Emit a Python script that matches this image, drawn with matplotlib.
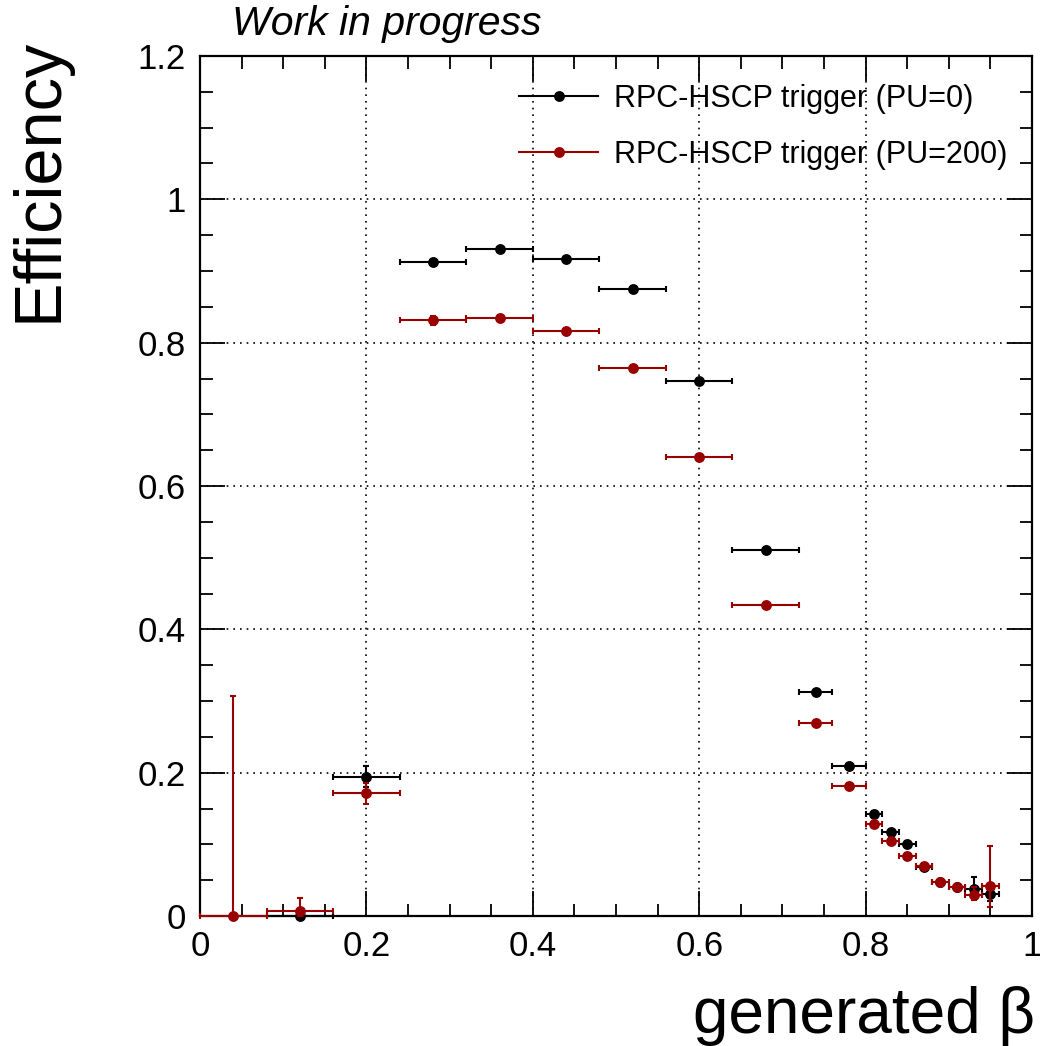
import matplotlib.pyplot as plt
from matplotlib.lines import Line2D
from matplotlib.ticker import MultipleLocator

plt.rcParams['font.family'] = ['Liberation Sans', 'DejaVu Sans']

# bin centres / half widths (generated beta)
x_pu0 = [0.12, 0.20, 0.28, 0.36, 0.44, 0.52, 0.60, 0.68, 0.74, 0.78,
         0.81, 0.83, 0.85, 0.87, 0.89, 0.91, 0.93, 0.95]
xw_pu0 = [0.04, 0.04, 0.04, 0.04, 0.04, 0.04, 0.04, 0.04, 0.02, 0.02,
          0.01, 0.01, 0.01, 0.01, 0.01, 0.01, 0.01, 0.01]
eff_pu0 = [0.0, 0.194, 0.913, 0.931, 0.917, 0.875, 0.747, 0.511, 0.312, 0.210,
           0.142, 0.117, 0.100, 0.069, 0.048, 0.040, 0.038, 0.031]
elo_pu0 = [0.0, 0.014, 0.004, 0.003, 0.003, 0.004, 0.004, 0.004, 0.004, 0.004,
           0.004, 0.004, 0.004, 0.004, 0.004, 0.004, 0.010, 0.010]
ehi_pu0 = [0.004, 0.016, 0.004, 0.003, 0.003, 0.004, 0.004, 0.004, 0.004, 0.004,
           0.004, 0.004, 0.004, 0.004, 0.004, 0.004, 0.017, 0.012]

x_pu200 = [0.04, 0.12, 0.20, 0.28, 0.36, 0.44, 0.52, 0.60, 0.68, 0.74, 0.78,
           0.81, 0.83, 0.85, 0.87, 0.89, 0.91, 0.93, 0.95]
xw_pu200 = [0.04, 0.04, 0.04, 0.04, 0.04, 0.04, 0.04, 0.04, 0.04, 0.02, 0.02,
            0.01, 0.01, 0.01, 0.01, 0.01, 0.01, 0.01, 0.01]
eff_pu200 = [0.0, 0.007, 0.171, 0.831, 0.834, 0.816, 0.765, 0.640, 0.434, 0.269, 0.182,
             0.129, 0.105, 0.084, 0.070, 0.048, 0.040, 0.030, 0.042]
elo_pu200 = [0.0, 0.007, 0.015, 0.006, 0.004, 0.004, 0.004, 0.004, 0.004, 0.004, 0.004,
             0.004, 0.004, 0.004, 0.004, 0.004, 0.004, 0.008, 0.030]
ehi_pu200 = [0.307, 0.018, 0.014, 0.006, 0.004, 0.004, 0.004, 0.004, 0.004, 0.004, 0.004,
             0.004, 0.004, 0.004, 0.004, 0.004, 0.004, 0.010, 0.056]

labels = ['RPC-HSCP trigger (PU=0)', 'RPC-HSCP trigger (PU=200)']
red = '#990000'

fig = plt.figure(figsize=(10.4, 10.46), dpi=100)
ax = fig.add_axes([200/1040, 1-916/1046, 832/1040, 860/1046])

ax.errorbar(x_pu0, eff_pu0, xerr=xw_pu0, yerr=[elo_pu0, ehi_pu0], fmt='o', color='black',
            ms=6.8, elinewidth=1.5, capsize=2.5, capthick=1.5, clip_on=False, zorder=3)
ax.errorbar(x_pu200, eff_pu200, xerr=xw_pu200, yerr=[elo_pu200, ehi_pu200], fmt='o', color=red,
            ms=6.8, elinewidth=1.5, capsize=2.5, capthick=1.5, clip_on=False, zorder=4)

ax.set_xlim(0, 1)
ax.set_ylim(0, 1.2)
ax.xaxis.set_major_locator(MultipleLocator(0.2))
ax.xaxis.set_minor_locator(MultipleLocator(0.05))
ax.yaxis.set_major_locator(MultipleLocator(0.2))
ax.yaxis.set_minor_locator(MultipleLocator(0.05))
ax.set_xticks([0, 0.2, 0.4, 0.6, 0.8, 1.0])
ax.set_xticklabels(['0', '0.2', '0.4', '0.6', '0.8', '1'])
ax.set_yticks([0, 0.2, 0.4, 0.6, 0.8, 1.0, 1.2])
ax.set_yticklabels(['0', '0.2', '0.4', '0.6', '0.8', '1', '1.2'])
ax.tick_params(which='both', direction='in', top=True, right=True, width=1.3, labelsize=25)
ax.tick_params(which='major', length=18)
ax.tick_params(which='minor', length=9)
ax.tick_params(axis='x', pad=10)
ax.tick_params(axis='y', pad=10)
for s in ax.spines.values():
    s.set_linewidth(1.6)

ax.grid(True, which='major', color='black', linestyle=(0, (1, 3)), linewidth=1.2)
ax.set_axisbelow(True)

fig.text(40/1040, 1-180/1046, 'Efficiency', rotation=90, fontsize=48, ha='center', va='center')
fig.text(1035/1040, 1-1016/1046, 'generated \u03b2', fontsize=46, ha='right', va='center')
fig.text(232/1040, 1-24/1046, 'Work in progress', fontsize=29.5, style='italic', ha='left', va='center')

handles = [Line2D([], [], color='black', marker='o', ms=6.8, lw=1.5),
           Line2D([], [], color=red, marker='o', ms=6.8, lw=1.5)]
ax.legend(handles, labels, loc='upper left', bbox_to_anchor=(519/1040, 1-84/1046),
          bbox_transform=fig.transFigure, frameon=False, fontsize=22, handlelength=2.6,
          handletextpad=0.5, labelspacing=0.85, borderpad=0, borderaxespad=0)

fig.savefig('out.png', dpi=100)
